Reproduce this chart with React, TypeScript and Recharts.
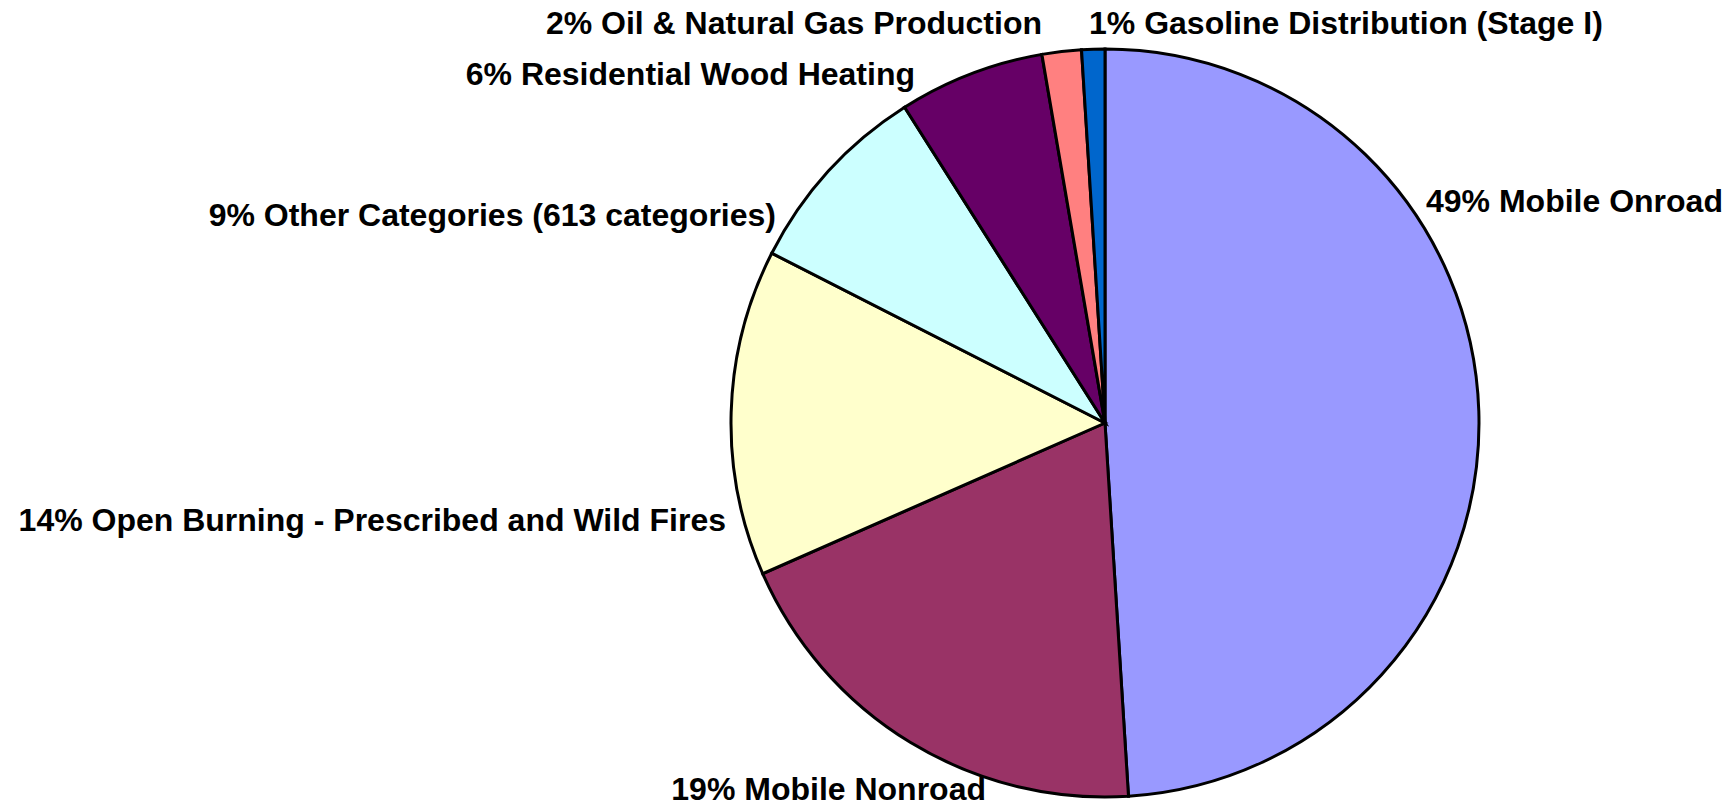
import { PieChart, Pie, Cell } from "recharts";

const categories = [
    "Mobile Onroad",
    "Mobile Nonroad",
    "Open Burning - Prescribed and Wild Fires",
    "Other Categories (613 categories)",
    "Residential Wood Heating",
    "Oil & Natural Gas Production",
    "Gasoline Distribution (Stage I)",
];
const shares = [49.0, 19.4, 14.1, 8.5, 6.3, 1.7, 1.0];
const colors = ["#9999FF", "#993366", "#FFFFCC", "#CCFFFF", "#660066", "#FF8080", "#0066CC"];

// label placement relative to pie centre: [dx, dy, anchor]
const labelSpots: [number, number, "start" | "end"][] = [
    [321, -222, "start"],
    [-119, 366, "end"],
    [-379, 97, "end"],
    [-329, -208, "end"],
    [-190, -349, "end"],
    [-63, -400, "end"],
    [-16, -400, "start"],
];

const data = categories.map((name, i) => ({ name, value: shares[i] }));

const renderLabel = (props: any) => {
    const { cx, cy, index, percent, name } = props;
    const [dx, dy, anchor] = labelSpots[index];
    return (
        <text
            x={cx + dx}
            y={cy + dy}
            textAnchor={anchor}
            dominantBaseline="central"
            fill="#000"
            fontSize={32}
            fontWeight="bold"
            fontFamily="'Liberation Sans', Arial, sans-serif"
        >
            {`${Math.round(percent * 100)}% ${name}`}
        </text>
    );
};

export default function App() {
    return (
        <div style={{ position: "absolute", left: 0, top: 0, background: "#fff" }}>
            <PieChart width={1736} height={809}>
                <Pie
                    data={data}
                    dataKey="value"
                    nameKey="name"
                    cx={1100}
                    cy={418}
                    outerRadius={374}
                    startAngle={90}
                    endAngle={-270}
                    stroke="#000"
                    strokeWidth={3}
                    label={renderLabel}
                    labelLine={false}
                    isAnimationActive={false}
                >
                    {data.map((d, i) => (
                        <Cell key={d.name} fill={colors[i]} />
                    ))}
                </Pie>
            </PieChart>
        </div>
    );
}
